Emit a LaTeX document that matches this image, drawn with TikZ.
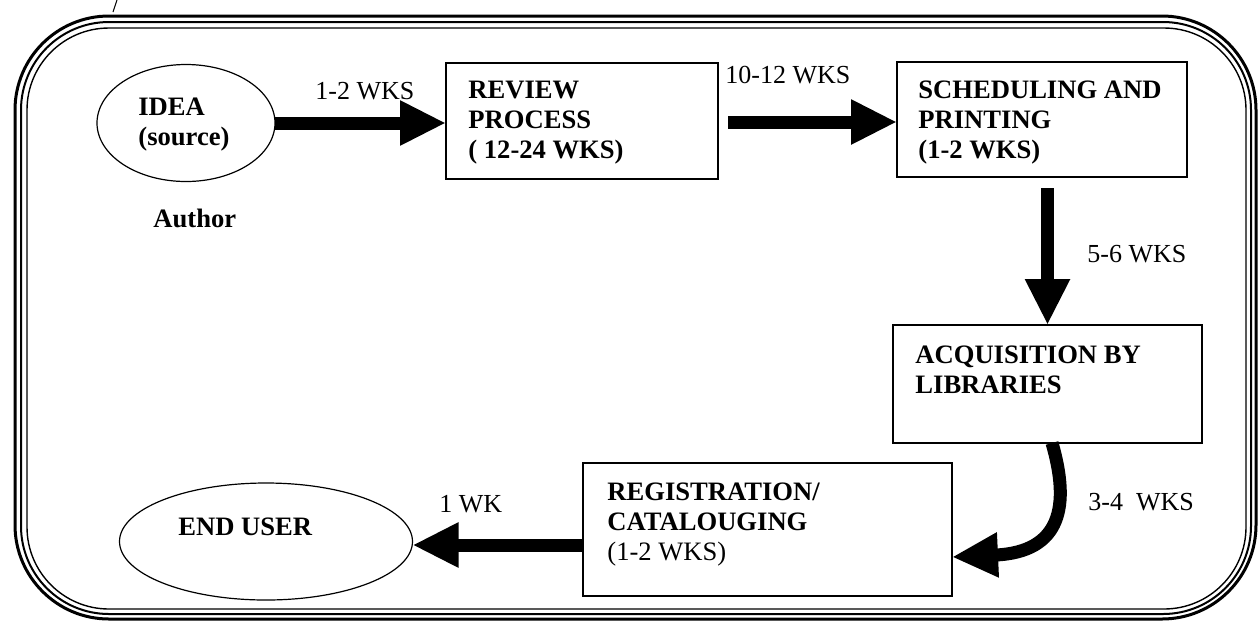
\documentclass[tikz,border=0pt]{standalone}
\usepackage{fontspec}
\setmainfont{Liberation Serif}
\usetikzlibrary{arrows.meta,shapes.geometric}
\begin{document}
\begin{tikzpicture}[x=0.5pt,y=-0.5pt,
  boxnode/.style={draw,line width=0.75pt,rectangle,inner sep=0pt,outer sep=0pt},
  ovalnode/.style={draw,line width=0.6pt,ellipse,inner sep=0pt,outer sep=0pt},
  boxtext/.style={inner sep=0pt,align=left,font=\fontsize{13.3pt}{15pt}\selectfont\bfseries},
  lbl/.style={inner sep=0pt,anchor=base west,font=\fontsize{13pt}{15pt}\selectfont},
  fat/.style={line width=6.5pt,-{Triangle[length=23pt,width=21pt]}}]
\useasboundingbox (0,0) rectangle (1258,623);
% frame
\draw[line width=1.5pt,rounded corners=47pt] (15,16) rectangle (1256,619);
\draw[line width=1pt,rounded corners=44pt] (21,22) rectangle (1251,614);
\draw[line width=0.7pt,rounded corners=41pt] (27,28) rectangle (1246,609);
\draw[line width=0.5pt] (113,12) -- (117,0);
% nodes
\node[ovalnode,minimum width=89pt,minimum height=58.5pt] (idea) at (186,123) {};
\node[boxtext,anchor=base west] (ideat) at (138,145) {IDEA\\(source)};
\node[boxtext,anchor=base west] (author) at (153,227) {Author};
\node[boxnode,minimum width=136pt,minimum height=58pt] (review) at (582,121) {};
\node[boxtext,anchor=base west] (reviewt) at (468,158) {REVIEW\\PROCESS\\( 12-24 WKS)};
\node[boxnode,minimum width=145pt,minimum height=57.5pt] (sched) at (1042,119.5) {};
\node[boxtext,anchor=base west] (schedt) at (918,158) {SCHEDULING AND\\PRINTING\\(1-2 WKS)};
\node[boxnode,minimum width=154.5pt,minimum height=59pt] (acq) at (1047.5,384) {};
\node[boxtext,anchor=base west] (acqt) at (915,393) {ACQUISITION BY\\LIBRARIES};
\node[boxnode,minimum width=184.5pt,minimum height=66.5pt] (reg) at (767.5,529.5) {};
\node[boxtext,anchor=base west] (regt) at (607,560) {REGISTRATION/\\CATALOUGING\\\mdseries(1-2 WKS)};
\node[ovalnode,minimum width=146.5pt,minimum height=58.5pt] (enduser) at (266,541.5) {};
\node[boxtext,anchor=base west] (endusert) at (178,535) {END USER};
% labels
\node[lbl] (l1) at (315,99) {1-2 WKS};
\node[lbl] (l2) at (725,83) {10-12 WKS};
\node[lbl] (l3) at (1087,262) {5-6 WKS};
\node[lbl] (l4) at (1088,510) {3-4\ \ WKS};
\node[lbl] (l5) at (439,512) {1 WK};
% connectors
\draw[fat] (idea.east) -- (review.west |- idea.east);
\draw[fat] (review.east) ++(10,1) -- (sched.west |- 0,122);
\draw[fat] (sched.south -| acq.north) ++(0,11) -- (acq.north);
\draw[fat] ([xshift=2.25pt]acq.south) .. controls (1070,505) and (1062,552) .. ([yshift=-13.75pt]reg.east);
\draw[fat] (reg.west |- 0,545) -- (enduser.east |- 0,545);
\end{tikzpicture}
\end{document}
